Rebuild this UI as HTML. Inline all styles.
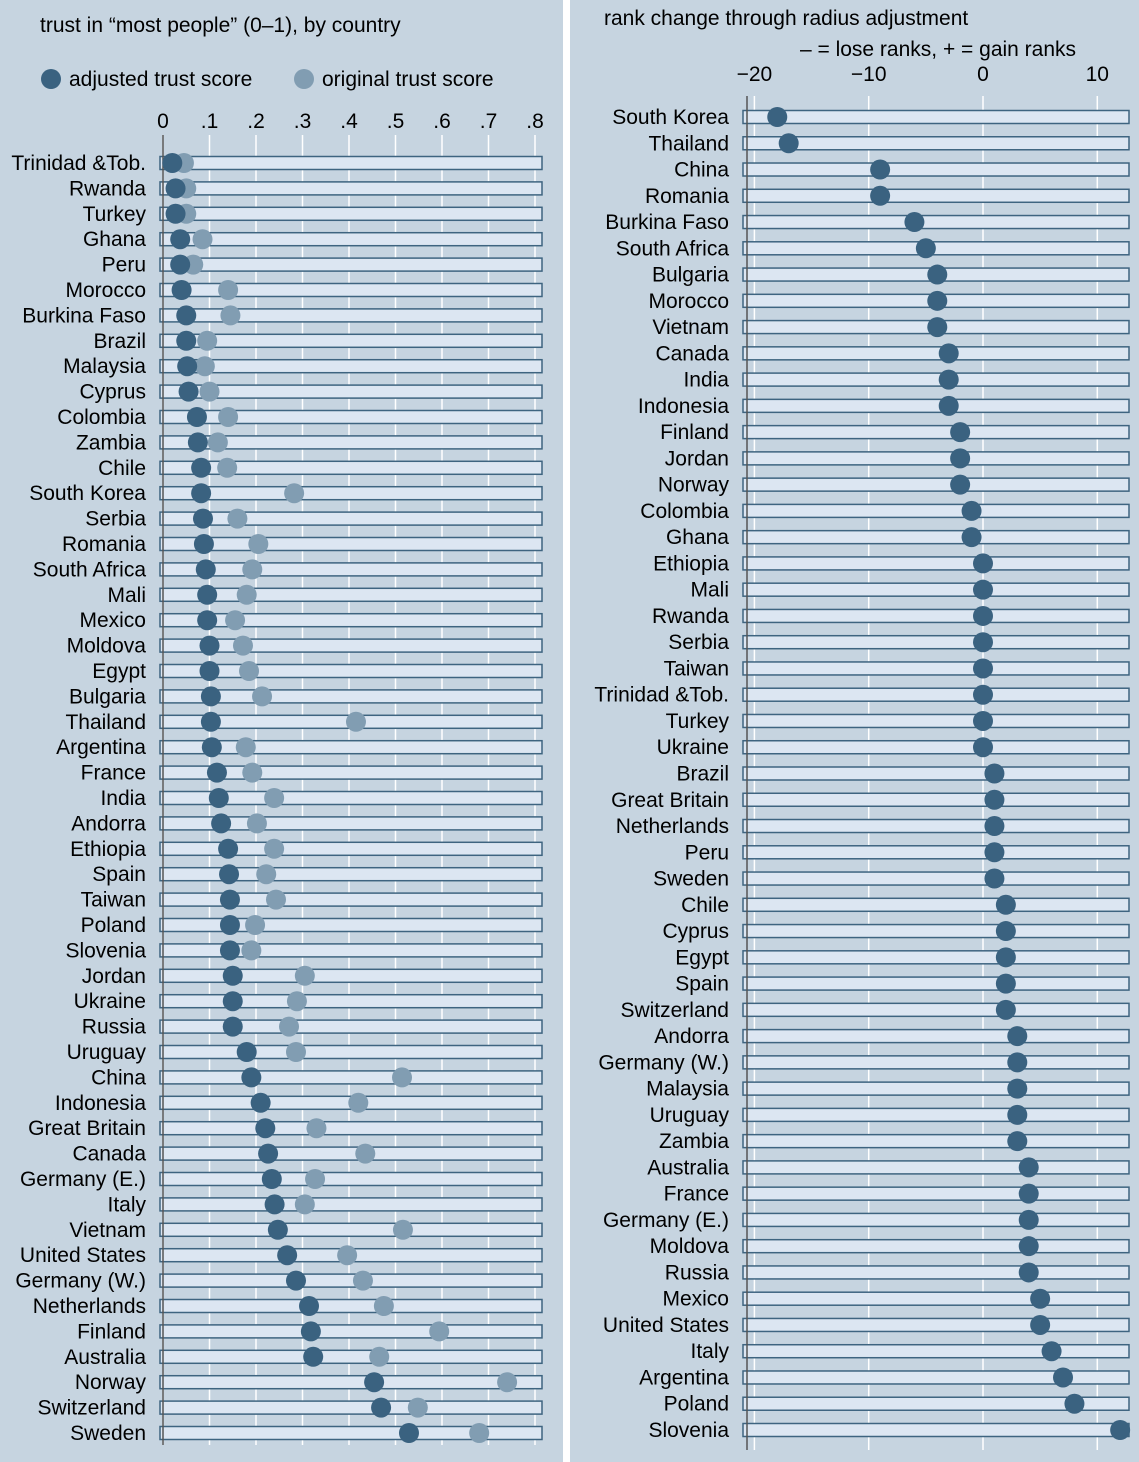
<!DOCTYPE html>
<html><head><meta charset="utf-8"><style>
body{margin:0;background:#fff;}
svg{display:block;font-family:"Liberation Sans",Arial,sans-serif;}
</style></head><body>
<svg id="c" width="1139" height="1462">
<rect x="0" y="0" width="563" height="1462" fill="#c6d4e0"/>
<rect x="570" y="0" width="569" height="1462" fill="#c6d4e0"/>
<text x="40" y="32" font-size="21">trust in “most people” (0–1), by country</text>
<circle cx="51" cy="79" r="10" fill="#3a6280"/>
<text x="69" y="86" font-size="21">adjusted trust score</text>
<circle cx="304" cy="79" r="10" fill="#819db2"/>
<text x="322" y="86" font-size="21">original trust score</text>
<text x="604" y="25" font-size="21">rank change through radius adjustment</text>
<text x="938" y="56" font-size="21" text-anchor="middle">– = lose ranks, + = gain ranks</text>
<g id="L"></g><g id="R"></g>
</svg>
<script>
const leftCountries=["Trinidad &Tob.","Rwanda","Turkey","Ghana","Peru","Morocco","Burkina Faso","Brazil","Malaysia","Cyprus","Colombia","Zambia","Chile","South Korea","Serbia","Romania","South Africa","Mali","Mexico","Moldova","Egypt","Bulgaria","Thailand","Argentina","France","India","Andorra","Ethiopia","Spain","Taiwan","Poland","Slovenia","Jordan","Ukraine","Russia","Uruguay","China","Indonesia","Great Britain","Canada","Germany (E.)","Italy","Vietnam","United States","Germany (W.)","Netherlands","Finland","Australia","Norway","Switzerland","Sweden"];
const adjusted=[.02,.027,.027,.037,.037,.04,.05,.05,.052,.055,.073,.075,.082,.082,.086,.088,.092,.095,.095,.1,.1,.103,.103,.105,.116,.12,.125,.14,.142,.144,.144,.144,.15,.15,.15,.18,.19,.21,.22,.226,.234,.24,.247,.267,.286,.314,.318,.323,.454,.469,.529];
const original=[.045,.05,.05,.085,.065,.14,.145,.095,.09,.1,.14,.118,.138,.282,.16,.205,.192,.18,.155,.172,.185,.213,.415,.178,.192,.239,.202,.239,.222,.243,.198,.19,.305,.288,.271,.286,.514,.42,.33,.435,.327,.305,.516,.396,.43,.475,.594,.465,.74,.548,.68];
const leftTicks=[0,.1,.2,.3,.4,.5,.6,.7,.8];
const leftTickLabels=["0",".1",".2",".3",".4",".5",".6",".7",".8"];
const rightCountries=["South Korea","Thailand","China","Romania","Burkina Faso","South Africa","Bulgaria","Morocco","Vietnam","Canada","India","Indonesia","Finland","Jordan","Norway","Colombia","Ghana","Ethiopia","Mali","Rwanda","Serbia","Taiwan","Trinidad &Tob.","Turkey","Ukraine","Brazil","Great Britain","Netherlands","Peru","Sweden","Chile","Cyprus","Egypt","Spain","Switzerland","Andorra","Germany (W.)","Malaysia","Uruguay","Zambia","Australia","France","Germany (E.)","Moldova","Russia","Mexico","United States","Italy","Argentina","Poland","Slovenia"];
const rankChange=[-18,-17,-9,-9,-6,-5,-4,-4,-4,-3,-3,-3,-2,-2,-2,-1,-1,0,0,0,0,0,0,0,0,1,1,1,1,1,2,2,2,2,2,3,3,3,3,3,4,4,4,4,4,5,5,6,7,8,12];
const rightTicks=[-20,-10,0,10];
const rightTickLabels=["\u221220","\u221210","0","10"];
const NS="http://www.w3.org/2000/svg";
function mk(p,t,a){const e=document.createElementNS(NS,t);for(const k in a)e.setAttribute(k,a[k]);p.appendChild(e);return e;}
const Lx=v=>163+v*465, Ly=i=>163+i*25.4;
const Rx=v=>983+v*11.43, Ry=i=>117+i*26.26;
const L=document.getElementById('L'), R=document.getElementById('R');
leftTicks.forEach((t,i)=>{
 const g=mk(L,'line',{x1:Lx(t),x2:Lx(t),y1:135,y2:1445,stroke:'#fff','stroke-width':1.5});
 
 
 const tx=mk(L,'text',{x:Lx(t),y:128,'font-size':21,'text-anchor':'middle'});tx.textContent=leftTickLabels[i];
 
 
});
leftCountries.forEach((c,i)=>{
 const y=Ly(i);
 const b=mk(L,'rect',{x:160,y:y-6.5,width:382,height:13,fill:'#dce6f2',stroke:'#3e6480','stroke-width':1.5});
 
 
 const t=mk(L,'text',{x:146,y:y+7,'font-size':21,'text-anchor':'end'});t.textContent=c;
 
 
});
const ax=mk(L,'line',{x1:163,x2:163,y1:135,y2:1445,stroke:'#555','stroke-width':1.5});


leftCountries.forEach((c,i)=>{
 const o=mk(L,'circle',{cx:Lx(original[i]),cy:Ly(i),r:10,fill:'#819db2'});
 
 
 const a=mk(L,'circle',{cx:Lx(adjusted[i]),cy:Ly(i),r:10,fill:'#3a6280'});
 
 
});
rightTicks.forEach((t,i)=>{
 const g=mk(R,'line',{x1:Rx(t),x2:Rx(t),y1:96,y2:1450,stroke:'#fff','stroke-width':1.5});
 
 
 const tx=mk(R,'text',{x:Rx(t),y:81,'font-size':21,'text-anchor':'middle'});tx.textContent=rightTickLabels[i];
 
 
});
rightCountries.forEach((c,i)=>{
 const y=Ry(i);
 const b=mk(R,'rect',{x:743,y:y-6.5,width:386,height:13,fill:'#dce6f2',stroke:'#3e6480','stroke-width':1.5});
 
 
 const t=mk(R,'text',{x:729,y:y+7,'font-size':21,'text-anchor':'end'});t.textContent=c;
 
 
});
const ax2=mk(R,'line',{x1:747,x2:747,y1:96,y2:1450,stroke:'#555','stroke-width':1.5});


rightCountries.forEach((c,i)=>{
 const d=mk(R,'circle',{cx:Rx(rankChange[i]),cy:Ry(i),r:10,fill:'#3a6280'});
 
 
});
</script>
</body></html>
